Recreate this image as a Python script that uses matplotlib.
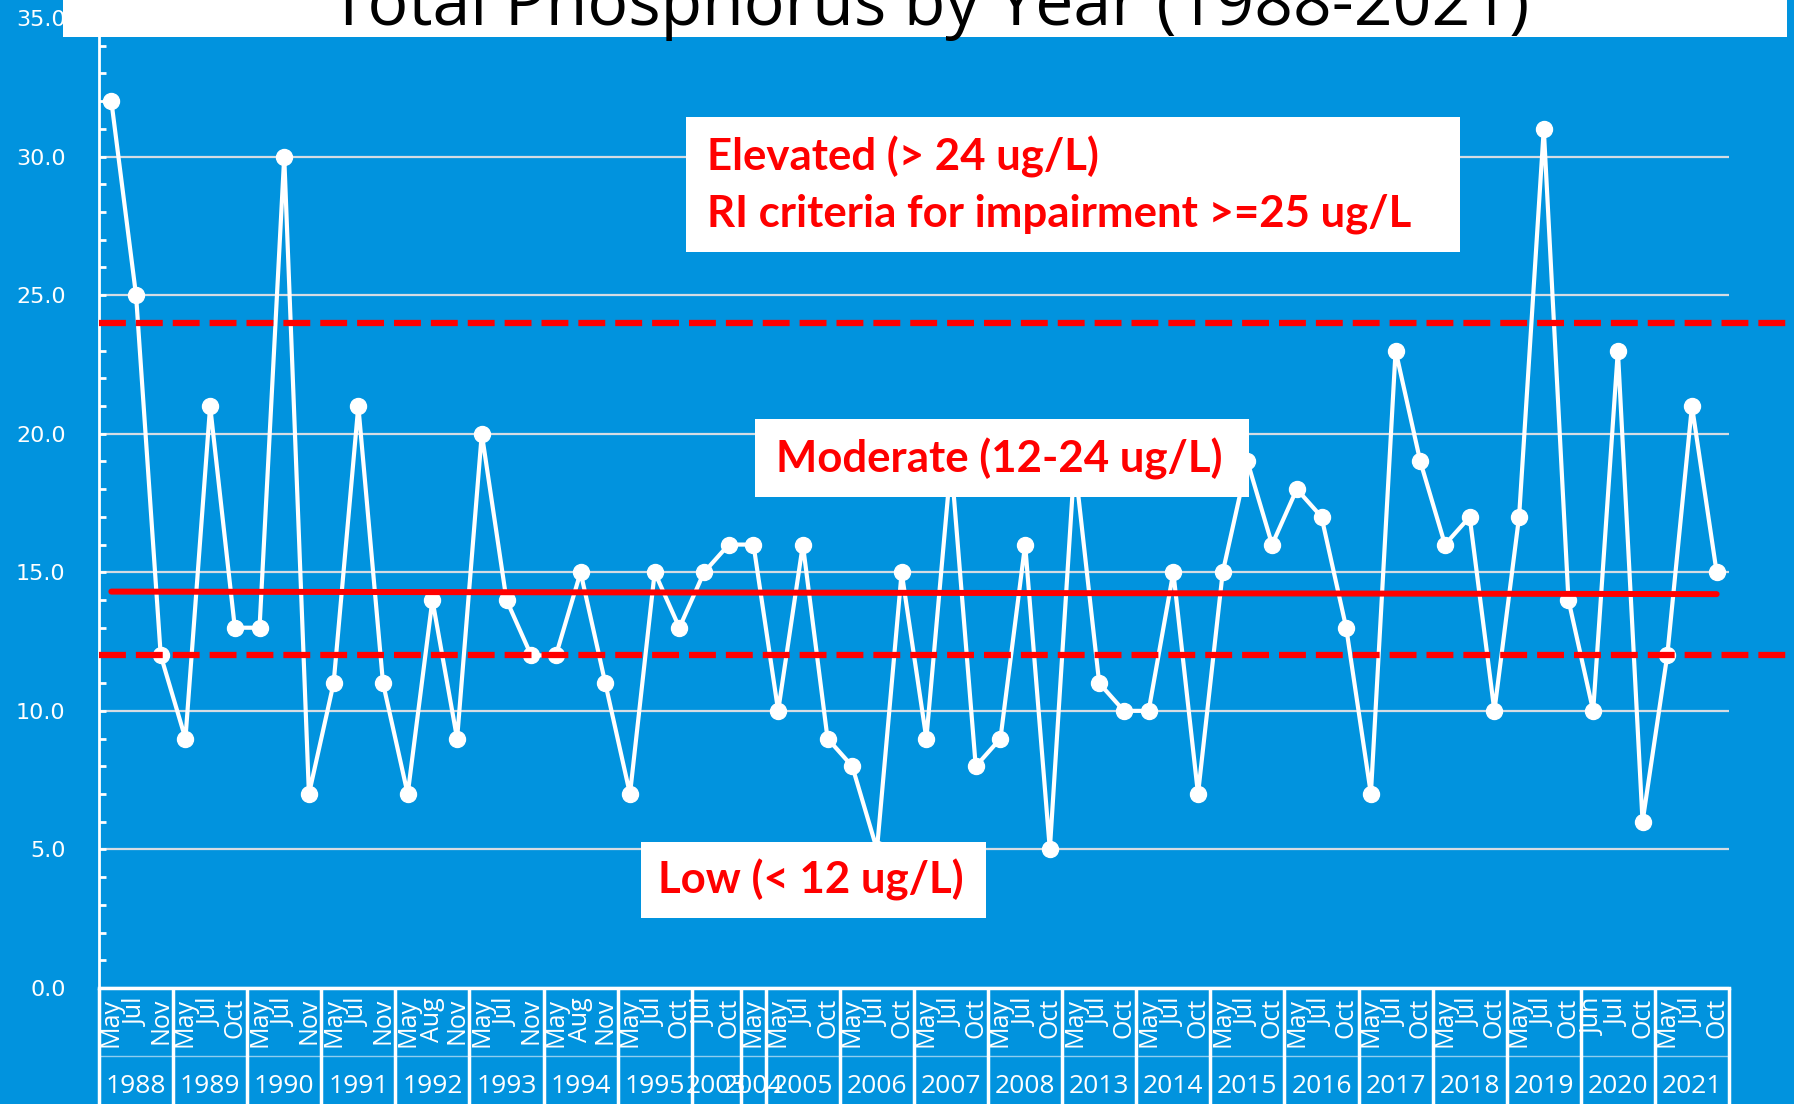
import numpy as np
import matplotlib.pyplot as plt
from matplotlib.patches import Rectangle

# Sampling months and total phosphorus (ug/L) for each year
years = ["1988", "1989", "1990", "1991", "1992", "1993", "1994", "1995",
         "2003", "2004", "2005", "2006", "2007", "2008", "2013", "2014",
         "2015", "2016", "2017", "2018", "2019", "2020", "2021"]
months = [["May", "Jul", "Nov"], ["May", "Jul", "Oct"], ["May", "Jul", "Nov"],
          ["May", "Jul", "Nov"], ["May", "Aug", "Nov"], ["May", "Jul", "Nov"],
          ["May", "Aug", "Nov"], ["May", "Jul", "Oct"], ["Jul", "Oct"], ["May"],
          ["May", "Jul", "Oct"], ["May", "Jul", "Oct"], ["May", "Jul", "Oct"],
          ["May", "Jul", "Oct"], ["May", "Jul", "Oct"], ["May", "Jul", "Oct"],
          ["May", "Jul", "Oct"], ["May", "Jul", "Oct"], ["May", "Jul", "Oct"],
          ["May", "Jul", "Oct"], ["May", "Jul", "Oct"], ["Jun", "Jul", "Oct"],
          ["May", "Jul", "Oct"]]
phosphorus = [32, 25, 12, 9, 21, 13, 13, 30, 7, 11, 21, 11, 7, 14, 9,
              20, 14, 12, 12, 15, 11, 7, 15, 13, 15, 16, 16,
              10, 16, 9, 8, 5, 15, 9, 19, 8, 9, 16, 5, 19, 11, 10,
              10, 15, 7, 15, 19, 16, 18, 17, 13, 7, 23, 19, 16, 17, 10,
              17, 31, 14, 10, 23, 6, 12, 21, 15]
elevated_limit = 24
low_limit = 12

W, H = 1794, 1104
blue = "#0193DE"
red = "#FF0000"

month_labels = [m for grp in months for m in grp]
x = np.arange(len(phosphorus))

fig = plt.figure(figsize=(W / 100, H / 100), dpi=100)
fig.patch.set_facecolor(blue)

ax_left, ax_right, ax_bottom, ax_top = 99, 1729, 988, 18
ax = fig.add_axes([ax_left / W, 1 - ax_bottom / H,
                   (ax_right - ax_left) / W, (ax_bottom - ax_top) / H])
ax.set_facecolor(blue)
ax.set_xlim(-0.5, len(phosphorus) - 0.5)
ax.set_ylim(0, 35)

# grid and spines
ax.set_yticks(np.arange(0, 36, 5))
ax.set_yticks(np.arange(0, 36, 1), minor=True)
ax.yaxis.set_major_formatter(plt.FormatStrFormatter("%.1f"))
ax.grid(axis="y", which="major", color="#D5DCE3", lw=1.6)
ax.set_axisbelow(True)
for s in ["top", "right"]:
    ax.spines[s].set_visible(False)
ax.spines["left"].set_color("white")
ax.spines["left"].set_linewidth(2)
ax.spines["bottom"].set_color("white")
ax.spines["bottom"].set_linewidth(2.5)
ax.tick_params(axis="y", which="both", direction="in", length=5, width=2,
               color="white", labelcolor="white", labelsize=16, pad=24)

ax.set_xticks(x)
ax.set_xticklabels(month_labels, rotation=90, fontsize=18, color="white",
                   family="Open Sans")
ax.tick_params(axis="x", length=0, pad=7)

# year groups below the month labels
xt = ax.get_xaxis_transform()
fig_bottom = -(H - ax_bottom) / (ax_bottom - ax_top)
ax.plot([-0.5, len(phosphorus) - 0.5], [-0.0705, -0.0705], transform=xt,
        color="#8FCDEF", lw=1, clip_on=False)
start = 0
bounds = [-0.5]
for yr, grp in zip(years, months):
    end = start + len(grp)
    bounds.append(end - 0.5)
    ax.text((start + end - 1) / 2, -0.102, yr, transform=xt, ha="center",
            va="center", color="white", fontsize=19, family="Open Sans")
    start = end
for b in bounds:
    ax.plot([b, b], [0, fig_bottom], transform=xt, color="white", lw=2.5,
            clip_on=False, solid_capstyle="butt")

# data series
ax.plot(x, phosphorus, color="white", lw=3, marker="o", ms=11.5, zorder=3)

# linear trend
coef = np.polyfit(x, phosphorus, 1)
ax.plot([x[0], x[-1]], np.polyval(coef, [x[0], x[-1]]), color=red, lw=4.3,
        solid_capstyle="round", zorder=4)

# threshold lines running to the right edge of the slide
xmax = (W - ax_left) / (ax_right - ax_left)
for lvl in [elevated_limit, low_limit]:
    ax.axhline(lvl, xmin=0, xmax=xmax, color=red, lw=4.5, dashes=(4.3, 1.6),
               clip_on=False, zorder=4)


def box(x0, y0, x1, y1):
    fig.patches.append(Rectangle((x0 / W, 1 - y1 / H), (x1 - x0) / W,
                                 (y1 - y0) / H, transform=fig.transFigure,
                                 fc="white", ec="none", zorder=5))


# title strip
box(63, 0, 1787, 37)
fig.text(930 / W, 1 - 25 / H, "Total Phosphorus by Year (1988-2021)",
         ha="center", va="baseline", fontsize=49, family="Open Sans",
         color="black", zorder=6)

lab = dict(color=red, fontsize=31.5, fontweight="bold", family="Lato",
           va="center", ha="left", zorder=6)
box(686, 117, 1460, 252)
fig.text(707 / W, 1 - 157 / H, "Elevated (> 24 ug/L)", **lab)
fig.text(707 / W, 1 - 214 / H, "RI criteria for impairment >=25 ug/L", **lab)
box(755, 419, 1249, 497)
fig.text(776 / W, 1 - 459 / H, "Moderate (12-24 ug/L)", **lab)
box(641, 842, 986, 918)
fig.text(658 / W, 1 - 880 / H, "Low (< 12 ug/L)", **lab)

fig.savefig("out.png", dpi=100, facecolor=blue)
